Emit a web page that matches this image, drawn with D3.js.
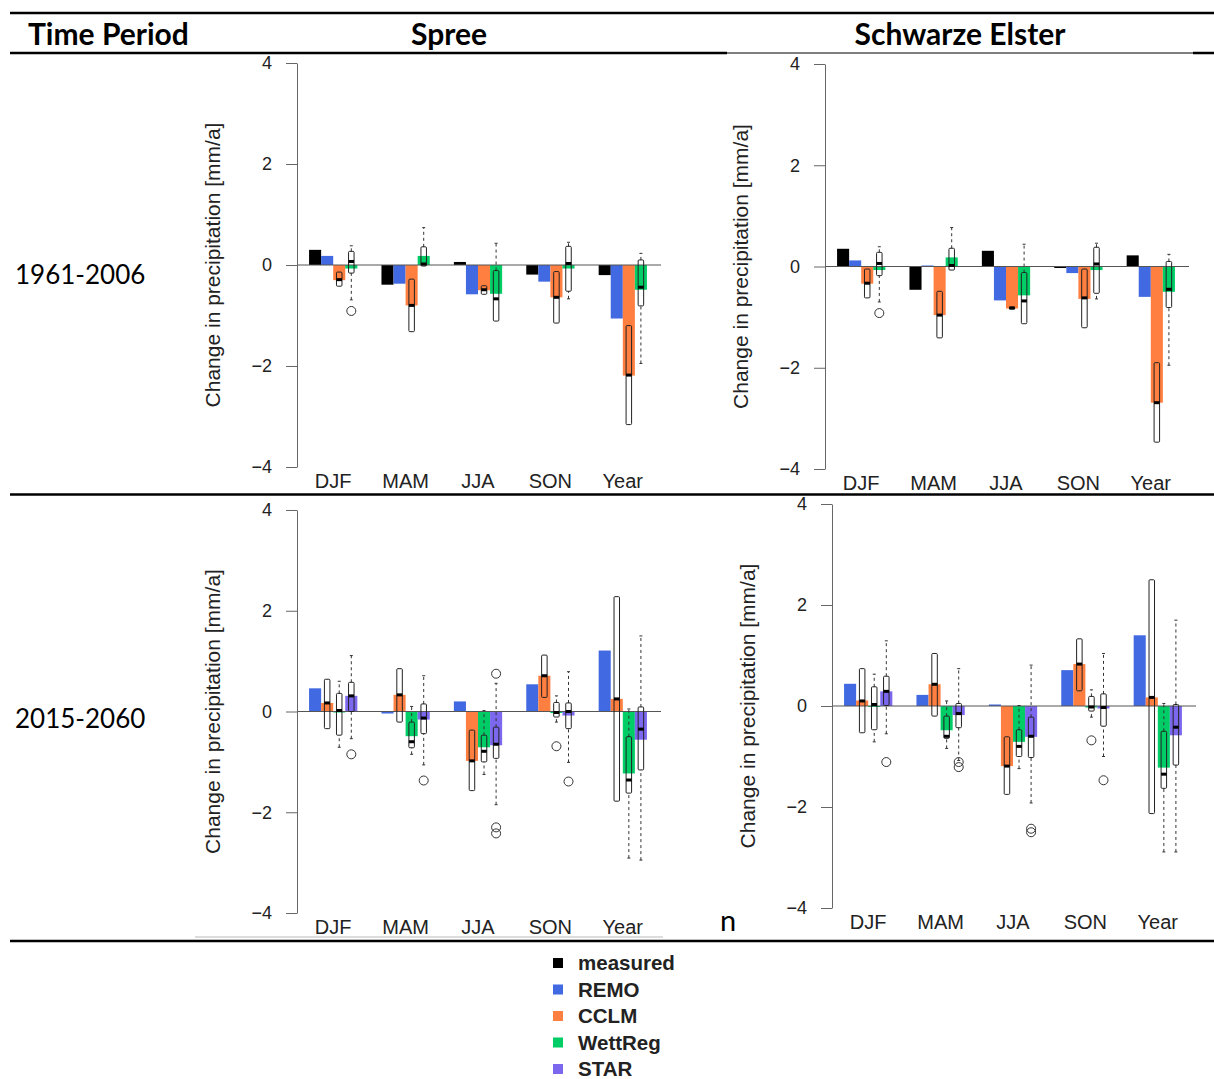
<!DOCTYPE html>
<html>
<head>
<meta charset="utf-8">
<script src="https://cdn.jsdelivr.net/npm/d3@7"></script>
<style>
  body { margin: 0; background: #fff; }
  .r text { font-family: "Liberation Sans", Arial, sans-serif; }
</style>
</head>
<body>
<script>
/* categories and series */
var seasons = ["DJF", "MAM", "JJA", "SON", "Year"];
var pastSeries = ["measured", "REMO", "CCLM", "WettReg"];
var futureSeries = ["REMO", "CCLM", "WettReg", "STAR"];
var legendSeries = ["measured", "REMO", "CCLM", "WettReg", "STAR"];
var yTicks = [-4, -2, 0, 2, 4];

/* bar heights, one array per series (mm/a), order = seasons */
// Spree 1961-2006
var spreePastMeasured = [0.30, -0.39, 0.06, -0.19, -0.20];
var spreePastREMO     = [0.18, -0.37, -0.58, -0.33, -1.06];
var spreePastCCLM     = [-0.30, -0.80, -0.50, -0.64, -2.19];
var spreePastWettReg  = [-0.07, 0.18, -0.57, -0.07, -0.49];
// Schwarze Elster 1961-2006
var elsterPastMeasured = [0.35, -0.46, 0.31, -0.03, 0.22];
var elsterPastREMO     = [0.12, 0.02, -0.67, -0.13, -0.60];
var elsterPastCCLM     = [-0.34, -0.96, -0.83, -0.64, -2.69];
var elsterPastWettReg  = [-0.07, 0.18, -0.57, -0.07, -0.50];
// Spree 2015-2060
var spreeFutREMO    = [0.46, -0.04, 0.20, 0.54, 1.21];
var spreeFutCCLM    = [0.17, 0.33, -0.98, 0.71, 0.25];
var spreeFutWettReg = [-0.02, -0.49, -0.71, -0.03, -1.23];
var spreeFutSTAR    = [0.31, -0.16, -0.67, -0.08, -0.56];
// Schwarze Elster 2015-2060
var elsterFutREMO    = [0.44, 0.22, 0.03, 0.71, 1.40];
var elsterFutCCLM    = [0.11, 0.43, -1.19, 0.83, 0.17];
var elsterFutWettReg = [-0.02, -0.48, -0.71, -0.03, -1.22];
var elsterFutSTAR    = [0.29, -0.18, -0.61, -0.05, -0.58];

/* box stats per season: [lower whisker, q1, median, q3, upper whisker] */
var spreePastCCLMBox = [[-0.42,-0.42,-0.29,-0.14,-0.14], [-1.32,-1.32,-0.80,-0.28,-0.28], [-0.58,-0.58,-0.49,-0.41,-0.41], [-1.15,-1.15,-0.64,-0.13,-0.13], [-3.16,-3.16,-2.18,-1.20,-1.20]];
var spreePastWettRegBox = [[-0.69,-0.16,0.07,0.27,0.38], [-0.02,-0.02,0.02,0.36,0.74], [-1.11,-1.11,-0.67,-0.11,0.43], [-0.67,-0.52,0.03,0.37,0.45], [-1.95,-0.81,-0.44,0.10,0.23]];
var spreePastWettRegOut = [[-0.91], [], [], [], []];

var elsterPastCCLMBox = [[-0.62,-0.62,-0.33,-0.05,-0.05], [-1.41,-1.41,-0.96,-0.49,-0.49], [-0.84,-0.84,-0.82,-0.80,-0.80], [-1.21,-1.21,-0.62,-0.05,-0.05], [-3.47,-3.47,-2.69,-1.90,-1.90]];
var elsterPastWettRegBox = [[-0.70,-0.18,0.06,0.28,0.39], [-0.07,-0.07,0.02,0.36,0.77], [-1.13,-1.13,-0.68,-0.12,0.44], [-0.64,-0.53,0.05,0.38,0.46], [-1.95,-0.81,-0.45,0.10,0.24]];
var elsterPastWettRegOut = [[-0.92], [], [], [], []];

var spreeFutCCLMBox = [[-0.34,-0.34,0.17,0.64,0.64], [-0.21,-0.21,0.33,0.85,0.85], [-1.57,-1.57,-0.98,-0.37,-0.37], [0.28,0.28,0.71,1.12,1.12], [-1.78,-1.78,0.25,2.28,2.28]];
var spreeFutWettRegBox = [[-0.71,-0.47,0.02,0.36,0.60], [-0.85,-0.72,-0.60,-0.21,0.10], [-1.25,-1.00,-0.79,-0.47,0.02], [-0.21,-0.11,-0.02,0.18,0.31], [-2.91,-1.62,-1.36,-0.50,0.05]];
var spreeFutWettRegOut = [[], [], [], [-0.69], []];
var spreeFutSTARBox = [[-0.54,0.00,0.31,0.58,1.11], [-1.06,-0.44,-0.13,0.15,0.71], [-1.85,-0.93,-0.65,-0.31,0.56], [-1.01,-0.34,0.00,0.17,0.79], [-2.95,-1.16,-0.35,0.09,1.50]];
var spreeFutSTAROut = [[-0.85], [-1.37], [0.75, -2.30, -2.42], [-1.39], []];

var elsterFutCCLMBox = [[-0.53,-0.53,0.10,0.74,0.74], [-0.20,-0.20,0.43,1.04,1.04], [-1.75,-1.75,-1.19,-0.61,-0.61], [0.30,0.30,0.83,1.33,1.33], [-2.13,-2.13,0.17,2.50,2.50]];
var elsterFutWettRegBox = [[-0.71,-0.47,0.03,0.38,0.63], [-0.84,-0.64,-0.60,-0.20,0.10], [-1.24,-1.00,-0.80,-0.47,0.01], [-0.22,-0.10,-0.02,0.19,0.32], [-2.89,-1.63,-1.35,-0.50,0.05]];
var elsterFutWettRegOut = [[], [], [], [-0.68], []];
var elsterFutSTARBox = [[-0.55,0.01,0.29,0.59,1.29], [-1.08,-0.43,-0.15,0.05,0.74], [-1.92,-1.02,-0.60,-0.22,0.81], [-1.00,-0.40,-0.03,0.24,1.04], [-2.89,-1.17,-0.42,0.03,1.70]];
var elsterFutSTAROut = [[-1.11], [-1.11, -1.21], [-2.43, -2.50], [-1.47], []];

var colors = {measured: "#000000", REMO: "#4169e1", CCLM: "#ff7f40", WettReg: "#00cd66", STAR: "#7b68ee"};

var width = 1214, height = 1079;
var plotWidth = 362;

var svg = d3.select("body").append("svg")
    .attr("width", width)
    .attr("height", height);

/* table frame */
function hline(x1, x2, y, w, c) {
    svg.append("line").attr("x1", x1).attr("x2", x2).attr("y1", y).attr("y2", y)
        .attr("stroke", c || "#000").attr("stroke-width", w);
}
hline(10, 1214, 13, 2.5);
hline(10, 727, 53, 2.5);
hline(727, 1193, 53, 1.2);
hline(1193, 1214, 53, 2.5);
hline(10, 1214, 494.5, 2.5);
hline(195, 663, 937, 1, "#bbb");
hline(10, 1214, 941, 2.5);

var head = svg.append("g").style("font-family", "Lato, 'Open Sans', sans-serif").attr("fill", "#000");
head.append("text").attr("x", 28).attr("y", 45).attr("font-size", 30).attr("font-weight", "bold").text("Time Period");
head.append("text").attr("x", 449).attr("y", 45).attr("font-size", 30).attr("font-weight", "bold").attr("text-anchor", "middle").text("Spree");
head.append("text").attr("x", 960).attr("y", 45).attr("font-size", 30).attr("font-weight", "bold").attr("text-anchor", "middle").text("Schwarze Elster");
head.append("text").attr("x", 15).attr("y", 284).attr("font-size", 26).text("1961-2006");
head.append("text").attr("x", 15).attr("y", 728).attr("font-size", 26).text("2015-2060");
head.append("text").attr("x", 720).attr("y", 931).attr("font-size", 29).text("n");

/* panels */
var panels = [
    {ax: 297, top: 63, bottom: 467, series: pastSeries,
     bars: [spreePastMeasured, spreePastREMO, spreePastCCLM, spreePastWettReg],
     boxes: [{s: "CCLM", stats: spreePastCCLMBox, out: null}, {s: "WettReg", stats: spreePastWettRegBox, out: spreePastWettRegOut}]},
    {ax: 825, top: 64, bottom: 469, series: pastSeries,
     bars: [elsterPastMeasured, elsterPastREMO, elsterPastCCLM, elsterPastWettReg],
     boxes: [{s: "CCLM", stats: elsterPastCCLMBox, out: null}, {s: "WettReg", stats: elsterPastWettRegBox, out: elsterPastWettRegOut}]},
    {ax: 297, top: 510, bottom: 913, series: futureSeries,
     bars: [spreeFutREMO, spreeFutCCLM, spreeFutWettReg, spreeFutSTAR],
     boxes: [{s: "CCLM", stats: spreeFutCCLMBox, out: null}, {s: "WettReg", stats: spreeFutWettRegBox, out: spreeFutWettRegOut}, {s: "STAR", stats: spreeFutSTARBox, out: spreeFutSTAROut}]},
    {ax: 832, top: 504, bottom: 908, series: futureSeries,
     bars: [elsterFutREMO, elsterFutCCLM, elsterFutWettReg, elsterFutSTAR],
     boxes: [{s: "CCLM", stats: elsterFutCCLMBox, out: null}, {s: "WettReg", stats: elsterFutWettRegBox, out: elsterFutWettRegOut}, {s: "STAR", stats: elsterFutSTARBox, out: elsterFutSTAROut}]}
];

function drawPanel(p) {
    var g = svg.append("g").attr("class", "r");

    var xScale = d3.scaleBand().domain(seasons)
        .range([p.ax, p.ax + plotWidth])
        .paddingInner(1 / 3).paddingOuter(1 / 6);
    var inner = d3.scaleBand().domain(p.series).range([0, xScale.bandwidth()]);
    var yScale = d3.scaleLinear().domain([-4, 4]).range([p.bottom, p.top]);
    var slot = inner.bandwidth();

    // bars
    p.series.forEach(function(s, i) {
        g.selectAll(null)
            .data(p.bars[i])
            .enter()
            .append("rect")
            .attr("x", function(d, j) { return xScale(seasons[j]) + inner(s); })
            .attr("width", slot)
            .attr("y", function(d) { return Math.min(yScale(d), yScale(0)); })
            .attr("height", function(d) { return Math.abs(yScale(d) - yScale(0)); })
            .attr("fill", colors[s]);
    });

    // zero line
    g.append("line")
        .attr("x1", p.ax).attr("x2", p.ax + plotWidth + 2)
        .attr("y1", yScale(0)).attr("y2", yScale(0))
        .attr("stroke", "#555").attr("stroke-width", 1);

    // boxplots
    var bw = 5.5;
    p.boxes.forEach(function(b) {
        b.stats.forEach(function(st, j) {
            var cx = xScale(seasons[j]) + inner(b.s) + slot / 2;
            var bg = g.append("g");
            // whiskers
            [[st[0], st[1]], [st[3], st[4]]].forEach(function(w) {
                if (Math.abs(w[0] - w[1]) < 0.001) return;
                bg.append("line")
                    .attr("x1", cx).attr("x2", cx)
                    .attr("y1", yScale(w[0])).attr("y2", yScale(w[1]))
                    .attr("stroke", "#333").attr("stroke-width", 1)
                    .attr("stroke-dasharray", "3,3");
            });
            [st[0], st[4]].forEach(function(v, k) {
                if (Math.abs(v - st[k === 0 ? 1 : 3]) < 0.001) return;
                bg.append("line")
                    .attr("x1", cx - 1.5).attr("x2", cx + 1.5)
                    .attr("y1", yScale(v)).attr("y2", yScale(v))
                    .attr("stroke", "#333").attr("stroke-width", 1);
            });
            // box
            bg.append("rect")
                .attr("x", cx - bw / 2).attr("width", bw)
                .attr("y", yScale(st[3]))
                .attr("height", Math.max(1.5, yScale(st[1]) - yScale(st[3])))
                .attr("rx", 1)
                .attr("fill", "none").attr("stroke", "#222").attr("stroke-width", 1);
            // median
            bg.append("rect")
                .attr("x", cx - bw / 2).attr("width", bw)
                .attr("y", yScale(st[2]) - 1.5).attr("height", 3)
                .attr("fill", "#000");
            // outliers
            if (b.out) {
                bg.selectAll("circle").data(b.out[j]).enter().append("circle")
                    .attr("cx", cx).attr("cy", function(d) { return yScale(d); })
                    .attr("r", 4.5)
                    .attr("fill", "none").attr("stroke", "#333").attr("stroke-width", 1);
            }
        });
    });

    // y axis
    var yAxis = d3.axisLeft(yScale).tickValues(yTicks).tickSize(11).tickSizeOuter(0).tickPadding(14)
        .tickFormat(d3.format("d"));
    var ax = g.append("g").attr("transform", "translate(" + p.ax + ",0)").call(yAxis);
    ax.select(".domain").attr("stroke", "#666");
    ax.selectAll(".tick line").attr("stroke", "#666");
    ax.selectAll(".tick text").attr("font-size", 18).attr("fill", "#222")
        .style("font-family", "'Liberation Sans', Arial, sans-serif");

    // category labels
    g.selectAll(".cat").data(seasons).enter().append("text")
        .attr("x", function(d) { return xScale(d) + xScale.bandwidth() / 2; })
        .attr("y", p.bottom + 21)
        .attr("text-anchor", "middle")
        .attr("font-size", 20).attr("fill", "#222")
        .text(function(d) { return d; });

    // y label
    g.append("text")
        .attr("transform", "translate(" + (p.ax - 77) + "," + ((p.top + p.bottom) / 2) + ") rotate(-90)")
        .attr("text-anchor", "middle")
        .attr("font-size", 21).attr("fill", "#222")
        .text("Change in precipitation [mm/a]");
}

panels.forEach(drawPanel);

/* legend */
var legend = svg.append("g").attr("class", "r");
var legendY = d3.scalePoint().domain(legendSeries).range([963, 1069]);
legend.selectAll("rect").data(legendSeries).enter().append("rect")
    .attr("x", 553).attr("y", function(d) { return legendY(d) - 5; })
    .attr("width", 10).attr("height", 10)
    .attr("fill", function(d) { return colors[d]; });
legend.selectAll("text").data(legendSeries).enter().append("text")
    .attr("x", 578).attr("y", function(d) { return legendY(d) + 7; })
    .attr("font-size", 20.5).attr("font-weight", "bold").attr("fill", "#222")
    .text(function(d) { return d; });
</script>
</body>
</html>
